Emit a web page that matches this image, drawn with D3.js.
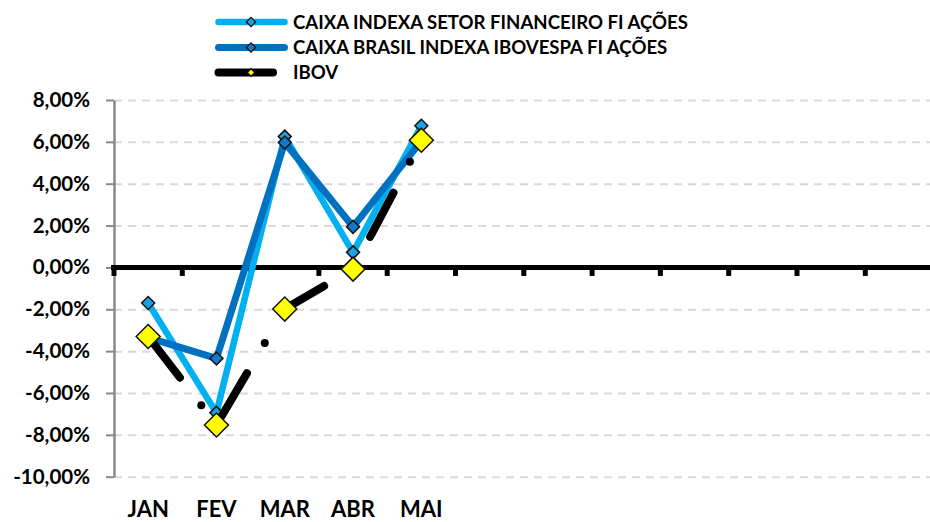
<!DOCTYPE html>
<html lang="pt">
  <head>
    <meta charset="utf-8" />
    <script src="https://d3js.org/d3.v7.min.js"></script>
    <style>
      body { margin: 0; background: white; }
      text { font-family: Lato, "Open Sans", sans-serif; font-weight: bold; fill: black; }
    </style>
  </head>
  <body>
    <script type="text/javascript">

      // data (monthly returns, %)
      var months = ["JAN", "FEV", "MAR", "ABR", "MAI"];
      var slotCount = 12;
      var setorFinanceiro = [-1.70, -6.95, 6.25, 0.72, 6.77];
      var brasilIbovespa = [-3.35, -4.35, 5.97, 1.94, 6.05];
      var ibov = [-3.30, -7.53, -1.99, -0.08, 6.08];
      var yTicks = [-10, -8, -6, -4, -2, 0, 2, 4, 6, 8];
      var seriesNames = ["CAIXA INDEXA SETOR FINANCEIRO FI AÇÕES",
                         "CAIXA BRASIL INDEXA IBOVESPA FI AÇÕES",
                         "IBOV"];

      // svg variables
      var w = 930;
      var h = 522;
      var leftChart = 114;
      var rightChart = 933.6;
      var topChart = 100;
      var bottomChart = 476.7;

      var svg = d3.select("body")
                  .append("svg")
                  .attr("width", w)
                  .attr("height", h);

      // scales
      var xScale = d3.scaleBand()
                     .domain(d3.range(slotCount))
                     .range([leftChart, rightChart]);
      var yScale = d3.scaleLinear()
                     .domain([-10, 8])
                     .range([bottomChart, topChart]);

      var ptBr = d3.formatLocale({decimal: ",", thousands: ".", grouping: [3],
                                  currency: ["R$", ""], minus: "-"});
      var pct = function(d) { return ptBr.format(".2f")(d) + "%"; };

      // dashed gridlines
      svg.append("g")
         .attr("transform", "translate(" + leftChart + ",0)")
         .call(d3.axisRight(yScale)
                 .tickValues(yTicks.filter(function(d) { return d != 0; }))
                 .tickSize(w - leftChart)
                 .tickFormat(""))
         .call(function(g) {
           g.select(".domain").remove();
           g.selectAll("line")
            .attr("stroke", "#d9d9d9")
            .attr("stroke-width", 2)
            .attr("stroke-dasharray", "8,6");
         });

      // y axis
      svg.append("g")
         .attr("transform", "translate(" + leftChart + ",0)")
         .call(d3.axisLeft(yScale)
                 .tickValues(yTicks)
                 .tickSize(8)
                 .tickSizeOuter(0)
                 .tickPadding(16)
                 .tickFormat(pct))
         .call(function(g) {
           g.select(".domain").attr("stroke", "#898989").attr("stroke-width", 2.5);
           g.selectAll("line").attr("stroke", "#898989").attr("stroke-width", 2);
           g.selectAll("text")
            .attr("font-size", "20.5px")
            .attr("font-family", "Lato, sans-serif")
            .attr("fill", "black");
         });

      // zero line with category tick marks between months
      var y0 = yScale(0);
      svg.append("line")
         .attr("x1", leftChart - 3)
         .attr("x2", w)
         .attr("y1", y0)
         .attr("y2", y0)
         .attr("stroke", "black")
         .attr("stroke-width", 5);

      svg.selectAll(".catTick")
         .data(d3.range(slotCount + 1))
         .enter()
         .append("line")
         .attr("class", "catTick")
         .attr("x1", function(d) { return leftChart + d * xScale.step(); })
         .attr("x2", function(d) { return leftChart + d * xScale.step(); })
         .attr("y1", y0)
         .attr("y2", y0 + 8.5)
         .attr("stroke", "black")
         .attr("stroke-width", 5);

      // month labels at the bottom
      svg.selectAll(".month")
         .data(months)
         .enter()
         .append("text")
         .attr("class", "month")
         .attr("x", function(d, i) { return xScale(i) + xScale.bandwidth() / 2; })
         .attr("y", 516.5)
         .attr("text-anchor", "middle")
         .attr("font-size", "22px")
         .text(function(d) { return d; });

      // series definitions
      var series = [
        {values: setorFinanceiro, color: "#00b0f0", marker: "#1aa3e3", width: 6.5, size: 6.5},
        {values: brasilIbovespa, color: "#0070c0", marker: "#1479c6", width: 7, size: 6.5},
        {values: ibov, color: "black", marker: "#ffff00", width: 8, size: 12,
         dash: "50,35,0,35"}
      ];

      var line = d3.line()
                   .x(function(d, i) { return xScale(i) + xScale.bandwidth() / 2; })
                   .y(function(d) { return yScale(d); });

      function diamond(cx, cy, r) {
        return "M" + cx + "," + (cy - r) + "L" + (cx + r) + "," + cy +
               "L" + cx + "," + (cy + r) + "L" + (cx - r) + "," + cy + "Z";
      }

      // draw each series (line then markers), in order
      series.forEach(function(s) {
        var path = svg.append("path")
                      .datum(s.values)
                      .attr("d", line)
                      .attr("fill", "none")
                      .attr("stroke", s.color)
                      .attr("stroke-width", s.width)
                      .attr("stroke-linejoin", "round")
                      .attr("stroke-linecap", "round");
        if (s.dash) {
          path.attr("stroke-dasharray", s.dash)
              .attr("stroke-dashoffset", -2);
        }

        svg.append("g")
           .selectAll("path")
           .data(s.values)
           .enter()
           .append("path")
           .attr("d", function(d, i) {
             return diamond(xScale(i) + xScale.bandwidth() / 2, yScale(d), s.size);
           })
           .attr("fill", s.marker)
           .attr("stroke", "#111")
           .attr("stroke-width", 1.5)
           .attr("stroke-linejoin", "miter");
      });

      // legend
      var legendY = [22, 47.5, 72.5];
      var legend = svg.selectAll(".legend")
                      .data(series)
                      .enter()
                      .append("g")
                      .attr("class", "legend")
                      .attr("transform", function(d, i) {
                        return "translate(0," + legendY[i] + ")";
                      });

      legend.append("line")
            .attr("x1", 218.5)
            .attr("x2", function(d, i) { return i == 2 ? 273 : 284.5; })
            .attr("stroke", function(d) { return d.color; })
            .attr("stroke-width", function(d) { return d.width; })
            .attr("stroke-linecap", "round");

      legend.append("path")
            .attr("d", function(d, i) { return diamond(251, 0, i == 2 ? 3.8 : 4.6); })
            .attr("fill", function(d) { return d.marker; })
            .attr("stroke", "#111")
            .attr("stroke-width", 1.3);

      legend.append("text")
            .attr("x", 293)
            .attr("dy", "0.35em")
            .attr("font-size", "18.6px")
            .text(function(d, i) { return seriesNames[i]; });

    </script>
  </body>
</html>
